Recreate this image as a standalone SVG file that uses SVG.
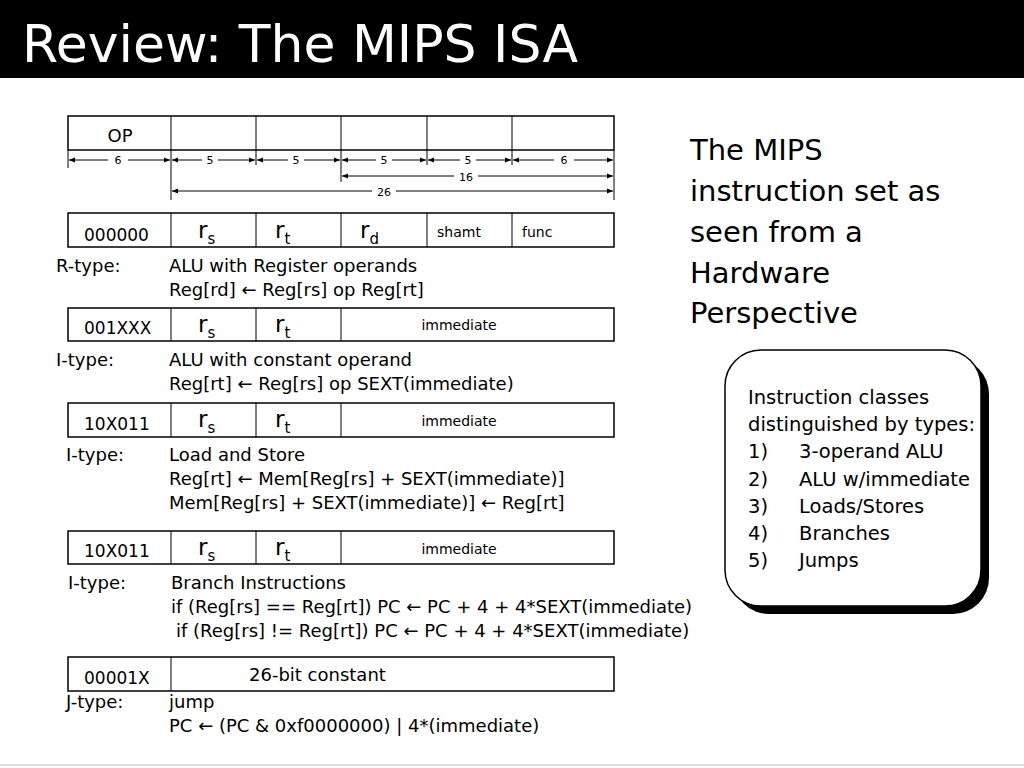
<svg xmlns="http://www.w3.org/2000/svg" width="1024" height="768" viewBox="0 0 1024 768">
<style>
text{font-family:"DejaVu Sans","Liberation Sans",sans-serif;fill:#000}
.b{fill:#fff;stroke:#000;stroke-width:1.5}
.l{stroke:#000;stroke-width:1;fill:none}
.m{font-size:18px}
.n{font-size:14px}
.r{font-size:23px}
.sub{font-size:15px}
.d{font-size:11px}
.t{font-size:29px}
.c{font-size:19.5px}
</style>
<defs>
<marker id="a" viewBox="0 0 10 10" refX="10" refY="5" markerWidth="8" markerHeight="6" orient="auto-start-reverse"><path d="M0,1L10,5L0,9z" fill="#000"/></marker>
</defs>
<rect x="0" y="0" width="1024" height="78" fill="#000"/>
<text x="22" y="62" style="font-size:52px;fill:#fff">Review: The MIPS ISA</text>
<line x1="0" y1="765" x2="1024" y2="765" stroke="#ddd" stroke-width="2"/>

<g id="format">
<rect class="b" x="68" y="116" width="546" height="34"/>
<path class="l" d="M171,116V150M256,116V150M341,116V150M427,116V150M512,116V150"/>
<text x="120" y="142" text-anchor="middle" class="m">OP</text>
</g>
<g id="connectors">
<path class="l" d="M68,150V168M171,150V200M256,150V165M341,150V182M427,150V165M512,150V165M614,150V200"/>
<g class="l" marker-start="url(#a)" marker-end="url(#a)">
<line x1="69" y1="160" x2="170" y2="160"/>
<line x1="172" y1="160" x2="255" y2="160"/>
<line x1="257" y1="160" x2="340" y2="160"/>
<line x1="342" y1="160" x2="426" y2="160"/>
<line x1="428" y1="160" x2="511" y2="160"/>
<line x1="513" y1="160" x2="613" y2="160"/>
<line x1="342" y1="176" x2="613" y2="176"/>
<line x1="172" y1="191" x2="613" y2="191"/>
</g>
<g fill="#fff"><rect x="108" y="152" width="20" height="14"/><rect x="202" y="152" width="16" height="14"/><rect x="288" y="152" width="16" height="14"/><rect x="376" y="152" width="16" height="14"/><rect x="460" y="152" width="16" height="14"/><rect x="554" y="152" width="20" height="14"/><rect x="454" y="169" width="24" height="14"/><rect x="372" y="184" width="24" height="14"/></g>
<g class="d" text-anchor="middle"><text x="118" y="164">6</text><text x="210" y="164">5</text><text x="296" y="164">5</text><text x="384" y="164">5</text><text x="468" y="164">5</text><text x="564" y="164">6</text><text x="466" y="181">16</text><text x="384" y="196">26</text></g>
</g>

<g id="rtype">
<rect class="b" x="68" y="213" width="546" height="34"/>
<path class="l" d="M171,213V247M256,213V247M341,213V247M427,213V247M512,213V247"/>
<text x="84" y="241" class="m" style="font-size:17px">000000</text>
<text x="198" y="238" class="r">r<tspan class="sub" dy="6">s</tspan></text>
<text x="275" y="238" class="r">r<tspan class="sub" dy="6">t</tspan></text>
<text x="360" y="238" class="r">r<tspan class="sub" dy="6">d</tspan></text>
<text x="437" y="237" class="n">shamt</text>
<text x="522" y="237" class="n">func</text>
<text x="56" y="272" class="m">R-type:</text>
<text x="169" y="272" class="m">ALU with Register operands</text>
<text x="169" y="296" class="m">Reg[rd] ← Reg[rs] op Reg[rt]</text>
</g>

<g id="itype1">
<rect class="b" x="68" y="308" width="546" height="33"/>
<path class="l" d="M171,308V341M256,308V341M341,308V341"/>
<text x="84" y="334" class="m" style="font-size:17px">001XXX</text>
<text x="198" y="332" class="r">r<tspan class="sub" dy="6">s</tspan></text>
<text x="275" y="332" class="r">r<tspan class="sub" dy="6">t</tspan></text>
<text x="459" y="330" text-anchor="middle" class="n">immediate</text>
<text x="56" y="366" class="m">I-type:</text>
<text x="169" y="366" class="m">ALU with constant operand</text>
<text x="169" y="390" class="m">Reg[rt] ← Reg[rs] op SEXT(immediate)</text>
</g>

<g id="itype2">
<rect class="b" x="68" y="403" width="546" height="34"/>
<path class="l" d="M171,403V437M256,403V437M341,403V437"/>
<text x="84" y="430" class="m" style="font-size:17px">10X011</text>
<text x="198" y="427" class="r">r<tspan class="sub" dy="6">s</tspan></text>
<text x="275" y="427" class="r">r<tspan class="sub" dy="6">t</tspan></text>
<text x="459" y="426" text-anchor="middle" class="n">immediate</text>
<text x="66" y="461" class="m">I-type:</text>
<text x="169" y="461" class="m">Load and Store</text>
<text x="169" y="485" class="m">Reg[rt] ← Mem[Reg[rs] + SEXT(immediate)]</text>
<text x="169" y="509" class="m">Mem[Reg[rs] + SEXT(immediate)] ← Reg[rt]</text>
</g>

<g id="itype3">
<rect class="b" x="68" y="531" width="546" height="33"/>
<path class="l" d="M171,531V564M256,531V564M341,531V564"/>
<text x="84" y="557" class="m" style="font-size:17px">10X011</text>
<text x="198" y="555" class="r">r<tspan class="sub" dy="6">s</tspan></text>
<text x="275" y="555" class="r">r<tspan class="sub" dy="6">t</tspan></text>
<text x="459" y="554" text-anchor="middle" class="n">immediate</text>
<text x="68" y="589" class="m">I-type:</text>
<text x="171" y="589" class="m">Branch Instructions</text>
<text x="171" y="613" class="m">if (Reg[rs] == Reg[rt]) PC ←  PC + 4 + 4*SEXT(immediate)</text>
<text x="176" y="637" class="m">if (Reg[rs] != Reg[rt]) PC ←  PC + 4 + 4*SEXT(immediate)</text>
</g>

<g id="jtype">
<rect class="b" x="68" y="657" width="546" height="34"/>
<path class="l" d="M171,657V691"/>
<text x="84" y="684" class="m" style="font-size:17px">00001X</text>
<text x="249" y="681" class="m">26-bit constant</text>
<text x="66" y="708" class="m">J-type:</text>
<text x="169" y="708" class="m">jump</text>
<text x="169" y="732" class="m">PC ← (PC &amp; 0xf0000000) | 4*(immediate)</text>
</g>

<g id="heading">
<text x="690" y="160" class="t">The MIPS</text>
<text x="690" y="201" class="t">instruction set as</text>
<text x="690" y="242" class="t">seen from a</text>
<text x="690" y="283" class="t">Hardware</text>
<text x="690" y="323" class="t">Perspective</text>
</g>

<g id="classes">
<rect x="733" y="358" width="256" height="256" rx="36" fill="#000"/>
<rect x="725" y="350" width="256" height="256" rx="36" fill="#fff" stroke="#000" stroke-width="1.5"/>
<text x="748" y="404" class="c">Instruction classes</text>
<text x="748" y="431" class="c">distinguished by types:</text>
<text x="748" y="458" class="c">1)</text><text x="799" y="458" class="c">3-operand ALU</text>
<text x="748" y="486" class="c">2)</text><text x="799" y="486" class="c">ALU w/immediate</text>
<text x="748" y="513" class="c">3)</text><text x="799" y="513" class="c">Loads/Stores</text>
<text x="748" y="540" class="c">4)</text><text x="799" y="540" class="c">Branches</text>
<text x="748" y="567" class="c">5)</text><text x="799" y="567" class="c">Jumps</text>
</g>
</svg>
